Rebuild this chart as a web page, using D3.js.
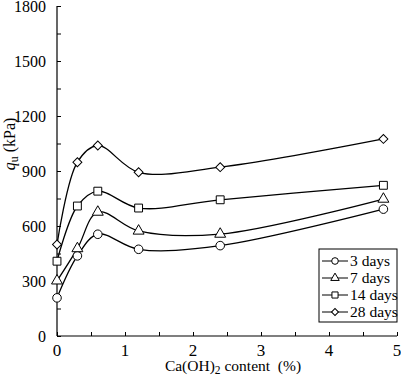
<!DOCTYPE html>
<html>
<head>
<meta charset="utf-8">
<script src="https://cdn.jsdelivr.net/npm/d3@7"></script>
<style>
  body { margin: 0; background: #fff; }
  svg text { font-family: "Liberation Serif", "Times New Roman", "DejaVu Serif", serif; }
</style>
</head>
<body>
<div id="chart"></div>
<script>
const contents = [0, 0.3, 0.6, 1.2, 2.4, 4.8];
const days3 = [208, 437, 555, 473, 493, 692];
const days7 = [301, 477, 676, 573, 556, 747];
const days14 = [408, 709, 790, 698, 743, 822];
const days28 = [499, 948, 1039, 893, 921, 1075];
const seriesNames = ["3 days", "7 days", "14 days", "28 days"];
const xTicks = [0, 1, 2, 3, 4, 5];
const yTicks = [0, 300, 600, 900, 1200, 1500, 1800];

const width = 401;
const height = 377;
const margin = { top: 6, right: 4, bottom: 41, left: 57 };

const svg = d3.select("#chart")
  .append("svg")
  .attr("width", width)
  .attr("height", height);

const x = d3.scaleLinear()
  .domain([0, 5])
  .range([margin.left, width - margin.right]);

const y = d3.scaleLinear()
  .domain([0, 1800])
  .range([height - margin.bottom, margin.top]);

// axes, ticks pointing inward
const xAxis = d3.axisTop(x)
  .tickValues(d3.range(0, 5.01, 0.5))
  .tickSize(4)
  .tickFormat("");

const yAxis = d3.axisRight(y)
  .tickValues(d3.range(0, 1801, 150))
  .tickSize(4)
  .tickFormat("");

svg.append("g")
  .attr("transform", `translate(0,${y(0)})`)
  .call(xAxis)
  .call(g => g.select(".domain").attr("d", `M${x(0)},0H${x(5)}`).attr("stroke-width", 1.2));

svg.append("g")
  .attr("transform", `translate(${x(0)},0)`)
  .call(yAxis)
  .call(g => g.select(".domain").attr("d", `M0,${y(1800)}V${y(0)}`).attr("stroke-width", 1.2));

svg.selectAll(".xlab")
  .data(xTicks)
  .join("text")
  .attr("class", "xlab")
  .attr("x", d => x(d))
  .attr("y", y(0) + 20)
  .attr("text-anchor", "middle")
  .attr("font-size", 17)
  .text(d => d);

svg.selectAll(".ylab")
  .data(yTicks)
  .join("text")
  .attr("class", "ylab")
  .attr("x", x(0) - 11)
  .attr("y", d => y(d) + 6)
  .attr("text-anchor", "end")
  .attr("font-size", 16)
  .text(d => d);

// axis titles
const xTitle = svg.append("text")
  .attr("x", 233)
  .attr("y", 371)
  .attr("text-anchor", "middle")
  .attr("font-size", 15.5);
xTitle.append("tspan").text("Ca(OH)");
xTitle.append("tspan").attr("font-size", 11.5).attr("dy", 3).text("2");
xTitle.append("tspan").attr("dy", -3).text(" content\u00a0\u00a0(%)");

const yTitle = svg.append("text")
  .attr("transform", `translate(15,144) rotate(-90)`)
  .attr("text-anchor", "middle")
  .attr("font-size", 16);
yTitle.append("tspan").attr("font-style", "italic").text("q");
yTitle.append("tspan").attr("font-size", 12).attr("dy", 3).text("u");
yTitle.append("tspan").attr("dy", -3).text(" (kPa)");

// series: circle, triangle, square, diamond (square turned 45°)
const symbols = [d3.symbolCircle, d3.symbolTriangle, d3.symbolSquare, d3.symbolSquare];
const symbolSizes = [58, 52, 62, 40];
const rotations = [0, 0, 0, 45];
const allSeries = [days3, days7, days14, days28];

const line = d3.line()
  .x((d, i) => x(contents[i]))
  .y(d => y(d))
  .curve(d3.curveCatmullRom.alpha(0.5));

allSeries.forEach(vals => {
  svg.append("path")
    .datum(vals)
    .attr("fill", "none")
    .attr("stroke", "#000")
    .attr("stroke-width", 1.3)
    .attr("d", line);
});

allSeries.forEach((vals, s) => {
  svg.append("g")
    .selectAll("path")
    .data(vals)
    .join("path")
    .attr("transform", (d, i) => `translate(${x(contents[i])},${y(d)}) rotate(${rotations[s]})`)
    .attr("d", d3.symbol().type(symbols[s]).size(symbolSizes[s]))
    .attr("fill", "#fff")
    .attr("stroke", "#000")
    .attr("stroke-width", 1);
});

// legend
const legend = svg.append("g").attr("transform", "translate(319,249)");
legend.append("rect")
  .attr("width", 78)
  .attr("height", 73)
  .attr("fill", "#fff")
  .attr("stroke", "#000")
  .attr("stroke-width", 1);

seriesNames.forEach((name, s) => {
  const row = legend.append("g").attr("transform", `translate(0,${12 + s * 17})`);
  row.append("line")
    .attr("x1", 3).attr("x2", 29)
    .attr("stroke", "#000").attr("stroke-width", 1);
  row.append("path")
    .attr("transform", `translate(16,0) rotate(${rotations[s]})`)
    .attr("d", d3.symbol().type(symbols[s]).size(symbolSizes[s] * 0.6))
    .attr("fill", "#fff")
    .attr("stroke", "#000");
  row.append("text")
    .attr("x", 31)
    .attr("y", 5)
    .attr("font-size", 15.5)
    .text(name);
});
</script>
</body>
</html>
